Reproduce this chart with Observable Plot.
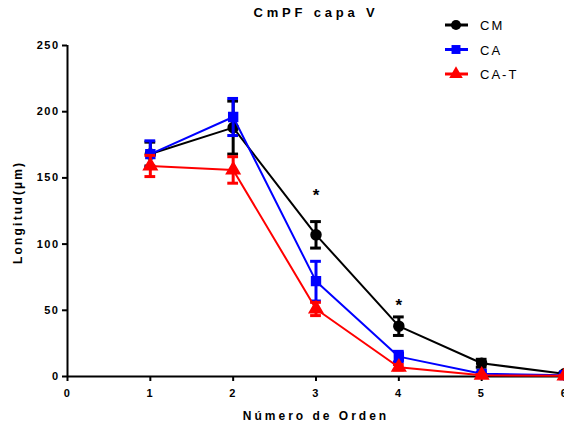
<!DOCTYPE html>
<html><head><meta charset="utf-8">
<script src="https://cdn.jsdelivr.net/npm/d3@7"></script>
<script src="https://cdn.jsdelivr.net/npm/@observablehq/plot@0.6"></script>
<style>
body{margin:0;background:#fff;}
#wrap{position:relative;width:564px;height:427px;overflow:hidden;font-family:"Liberation Sans",Arial,sans-serif;}
#title{position:absolute;left:0;width:632px;top:5px;text-align:center;font-weight:bold;font-size:13px;letter-spacing:3.8px;}
#xlab{position:absolute;left:0;width:632px;top:409px;text-align:center;font-weight:bold;font-size:12px;letter-spacing:3px;}
#ylab{position:absolute;left:11px;top:264px;transform-origin:0 0;transform:rotate(-90deg);white-space:nowrap;font-weight:bold;font-size:12px;letter-spacing:2.2px;}
#legend{position:absolute;left:440px;top:14px;}
</style></head><body><div id="wrap"></div>
<script>
const orden = [1, 2, 3, 4, 5, 6];
const seriesNames = ["CM", "CA", "CA-T"];
const seriesColors = ["#000000", "#0000ff", "#ff0000"];
const seriesSymbols = ["circle", "square", "triangle"];
const cmMean = [168, 188, 107, 38, 10, 2];
const cmSD   = [9, 20, 10, 7, 3, 1];
const caMean = [168, 196, 72, 15, 2, 1];
const caSD   = [10, 14, 15, 4, 1, 0.5];
const catMean = [159, 156, 51, 7, 1, 0.5];
const catSD   = [8, 10, 5, 2, 0.5, 0.3];
const starX = [3, 4];
const starY = [139, 56];
const xTicks = [0, 1, 2, 3, 4, 5, 6];
const yTicks = [0, 50, 100, 150, 200, 250];
const titleText = "CmPF capa V";
const xLabel = "Número de Orden";
const yLabel = "Longitud(µm)";

const means = [cmMean, caMean, catMean];
const sds = [cmSD, caSD, catSD];
const data = [];
seriesNames.forEach((s, i) => orden.forEach((x, j) => data.push({serie: s, x, y: means[i][j], sd: sds[i][j]})));
const stars = starX.map((x, i) => ({x, y: starY[i]}));
const capHalf = 0.065;

const plot = Plot.plot({
  width: 564, height: 427,
  marginLeft: 67, marginRight: 0, marginTop: 45, marginBottom: 51,
  style: {fontFamily: "'Liberation Sans', Arial, sans-serif", fontSize: "11px", fontWeight: "bold", background: "white", overflow: "hidden"},
  x: {domain: [0, 6]},
  y: {domain: [0, 250]},
  color: {domain: seriesNames, range: seriesColors},
  symbol: {domain: seriesNames, range: seriesSymbols},
  marks: [
    Plot.axisX({ticks: xTicks, tickSize: 5, tickPadding: 8, tickFormat: d => d, label: null, strokeWidth: 2}),
    Plot.axisY({ticks: yTicks, tickSize: 5, tickPadding: 3, tickFormat: d => d, label: null, strokeWidth: 2}),
    Plot.ruleY([0], {strokeWidth: 2}),
    Plot.ruleX([0], {strokeWidth: 2}),
    ...seriesNames.map(s => {
      const d = data.filter(e => e.serie === s);
      return [
        Plot.line(d, {x: "x", y: "y", stroke: "serie", strokeWidth: 2}),
        Plot.ruleX(d, {x: "x", y1: e => e.y - e.sd, y2: e => e.y + e.sd, stroke: "serie", strokeWidth: 3}),
        Plot.ruleY(d, {y: e => e.y + e.sd, x1: e => e.x - capHalf, x2: e => e.x + capHalf, stroke: "serie", strokeWidth: 3}),
        Plot.ruleY(d, {y: e => e.y - e.sd, x1: e => e.x - capHalf, x2: e => e.x + capHalf, stroke: "serie", strokeWidth: 3}),
        Plot.dot(d, {x: "x", y: "y", fill: "serie", stroke: "serie", symbol: "serie", r: 5})
      ];
    }),
    Plot.text(stars, {x: "x", y: "y", text: () => "*", fontSize: 17, fontWeight: "bold", dy: 3})
  ]
});

const wrap = document.getElementById("wrap");
wrap.appendChild(plot);
d3.select(plot).selectAll("g[aria-label='x-axis tick label'] text, g[aria-label='y-axis tick label'] text").style("letter-spacing", "1.5px");

const t = document.createElement("div"); t.id = "title"; t.textContent = titleText; wrap.appendChild(t);
const xl = document.createElement("div"); xl.id = "xlab"; xl.textContent = xLabel; wrap.appendChild(xl);
const yl = document.createElement("div"); yl.id = "ylab"; yl.textContent = yLabel; wrap.appendChild(yl);

// legend
const leg = d3.select(wrap).append("svg").attr("id", "legend").attr("width", 120).attr("height", 75);
seriesNames.forEach((s, i) => {
  const g = leg.append("g").attr("transform", `translate(0,${11 + i * 24.5})`);
  g.append("line").attr("x1", 5).attr("x2", 28).attr("stroke", seriesColors[i]).attr("stroke-width", 3);
  g.append("path").attr("transform", "translate(16,0)")
    .attr("d", d3.symbol(i === 0 ? d3.symbolCircle : i === 1 ? d3.symbolSquare : d3.symbolTriangle, 80)())
    .attr("fill", seriesColors[i]);
  g.append("text").attr("x", 40).attr("y", 5).text(s)
    .style("font-family", "'Liberation Sans', Arial, sans-serif").style("font-size", "13px").style("letter-spacing", "2px");
});
</script></body></html>
